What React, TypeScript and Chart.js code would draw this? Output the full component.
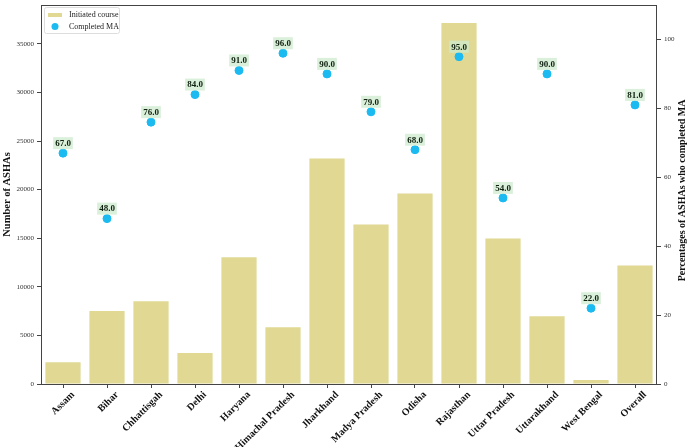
import React, { useEffect, useRef } from "react";
import { Chart, registerables } from "chart.js";
Chart.register(...registerables);

const categories = ["Assam", "Bihar", "Chhattisgah", "Delhi", "Haryana", "Himachal Pradesh", "Jharkhand", "Madya Pradesh", "Odisha", "Rajasthan", "Uttar Pradesh", "Uttarakhand", "West Bengal", "Overall"];
const initiated = [2250, 7500, 8520, 3200, 13050, 5850, 23200, 16420, 19600, 37150, 14980, 6980, 400, 12200];
const completedPct = [67, 48, 76, 84, 91, 96, 90, 79, 68, 95, 54, 90, 22, 81];
const seriesNames = ["Initiated course", "Completed MA"];
const leftTicks = [0, 5000, 10000, 15000, 20000, 25000, 30000, 35000];
const rightTicks = [0, 20, 40, 60, 80, 100];
const leftTitle = "Number of ASHAs";
const rightTitle = "Percentages of ASHAs who completed MA";

const FONT = "'Liberation Serif', 'DejaVu Serif', serif";
const BAR = "rgb(224,216,147)";
const DOT = "rgb(27,186,240)";

const framePlugin = {
  id: "frame",
  afterDatasetsDraw(chart: any) {
    const { ctx, chartArea: a } = chart;
    ctx.save();
    ctx.strokeStyle = "#444";
    ctx.lineWidth = 1;
    ctx.strokeRect(a.left + 0.5, a.top + 0.5, a.right - a.left - 1, a.bottom - a.top);
    ctx.restore();
  },
};

const titlePlugin = {
  id: "axisTitles",
  afterDraw(chart: any) {
    const { ctx, chartArea: a } = chart;
    const cy = (a.top + a.bottom) / 2;
    ctx.save();
    ctx.fillStyle = "#111";
    ctx.font = `bold 10.5px ${FONT}`;
    ctx.textAlign = "center";
    ctx.textBaseline = "middle";
    ctx.translate(7, cy);
    ctx.rotate(-Math.PI / 2);
    ctx.fillText(leftTitle, 0, 0);
    ctx.restore();
    ctx.save();
    ctx.fillStyle = "#111";
    ctx.font = `bold 10px ${FONT}`;
    ctx.textAlign = "center";
    ctx.textBaseline = "middle";
    ctx.translate(682, cy - 4);
    ctx.rotate(-Math.PI / 2);
    ctx.fillText(rightTitle, 0, 0);
    ctx.restore();
  },
};

const labelPlugin = {
  id: "ptlabels",
  afterDatasetsDraw(chart: any) {
    const { ctx } = chart;
    const meta = chart.getDatasetMeta(1);
    ctx.save();
    ctx.font = `bold 9px ${FONT}`;
    ctx.textAlign = "center";
    ctx.textBaseline = "middle";
    meta.data.forEach((pt: any, i: number) => {
      const txt = completedPct[i].toFixed(1);
      const w = ctx.measureText(txt).width;
      const x = pt.x;
      const y = pt.y - 10;
      ctx.fillStyle = "rgba(205,235,205,0.75)";
      ctx.fillRect(x - w / 2 - 2, y - 6, w + 4, 12);
      ctx.fillStyle = "#102010";
      ctx.fillText(txt, x, y + 0.5);
    });
    ctx.restore();
  },
};

const legendPlugin = {
  id: "insideLegend",
  afterDraw(chart: any) {
    const { ctx, chartArea: a } = chart;
    const x0 = a.left + 3;
    const y0 = a.top + 2;
    ctx.save();
    ctx.fillStyle = "rgba(255,255,255,0.85)";
    ctx.strokeStyle = "#ddd";
    ctx.lineWidth = 1;
    ctx.beginPath();
    ctx.roundRect(x0 + 0.5, y0 + 0.5, 75, 26, 2);
    ctx.fill();
    ctx.stroke();
    ctx.fillStyle = BAR;
    ctx.fillRect(x0 + 4, y0 + 6, 14, 4);
    ctx.fillStyle = DOT;
    ctx.beginPath();
    ctx.arc(x0 + 11, y0 + 19.5, 3.5, 0, Math.PI * 2);
    ctx.fill();
    ctx.fillStyle = "#222";
    ctx.font = `8px ${FONT}`;
    ctx.textBaseline = "middle";
    ctx.textAlign = "left";
    ctx.fillText(seriesNames[0], x0 + 25, y0 + 8);
    ctx.fillText(seriesNames[1], x0 + 25, y0 + 19.5);
    ctx.restore();
  },
};

const fitY = (w: number) => (s: any) => {
  s.width = w;
  s.paddingTop = 0;
  s.paddingBottom = 0;
};

export default function App() {
  const ref = useRef<HTMLCanvasElement>(null);
  useEffect(() => {
    if (!ref.current) return;
    const chart = new Chart(ref.current, {
      type: "bar",
      data: {
        labels: categories,
        datasets: [
          {
            type: "bar",
            label: seriesNames[0],
            data: initiated,
            backgroundColor: BAR,
            yAxisID: "y",
            categoryPercentage: 1,
            barPercentage: 0.8,
            order: 2,
          },
          {
            type: "scatter" as any,
            label: seriesNames[1],
            data: completedPct,
            backgroundColor: DOT,
            borderColor: DOT,
            pointRadius: 4,
            showLine: false,
            yAxisID: "y1",
            order: 1,
          } as any,
        ],
      },
      options: {
        responsive: false,
        animation: false,
        layout: { padding: { top: 4, left: 0, right: 0, bottom: 0 } },
        plugins: { legend: { display: false }, tooltip: { enabled: false } },
        scales: {
          x: {
            type: "category",
            offset: true,
            grid: { display: true, drawOnChartArea: false, drawTicks: true, tickLength: 4, color: "#444", offset: false },
            border: { display: false },
            ticks: {
              maxRotation: 45,
              minRotation: 45,
              autoSkip: false,
              padding: 1,
              labelOffset: 10,
              color: "#111",
              font: { family: FONT, size: 10, weight: "bold" },
            },
            afterFit(s: any) { s.height = 63; s.paddingLeft = 0; s.paddingRight = 0; },
          },
          y: {
            position: "left",
            min: 0,
            max: 39000,
            grid: { drawOnChartArea: false, drawTicks: true, tickLength: 4, color: "#444" },
            border: { display: false },
            afterBuildTicks(s: any) { s.ticks = leftTicks.map((v) => ({ value: v })); },
            ticks: { padding: 3, color: "#333", font: { family: FONT, size: 7 }, callback: (v: any) => String(v) },
            afterFit: fitY(41),
          },
          y1: {
            position: "right",
            min: 0,
            max: 110,
            grid: { drawOnChartArea: false, drawTicks: true, tickLength: 4, color: "#444" },
            border: { display: false },
            afterBuildTicks(s: any) { s.ticks = rightTicks.map((v) => ({ value: v })); },
            ticks: { padding: 3, color: "#333", font: { family: FONT, size: 7 }, callback: (v: any) => String(v) },
            afterFit: fitY(32),
          },
        },
      },
      plugins: [framePlugin, labelPlugin, legendPlugin, titlePlugin],
    });
    return () => chart.destroy();
  }, []);
  return (
    <div style={{ position: "fixed", left: 0, top: 0, width: 689, height: 447, background: "#fff" }}>
      <canvas ref={ref} width={689} height={447} />
    </div>
  );
}
